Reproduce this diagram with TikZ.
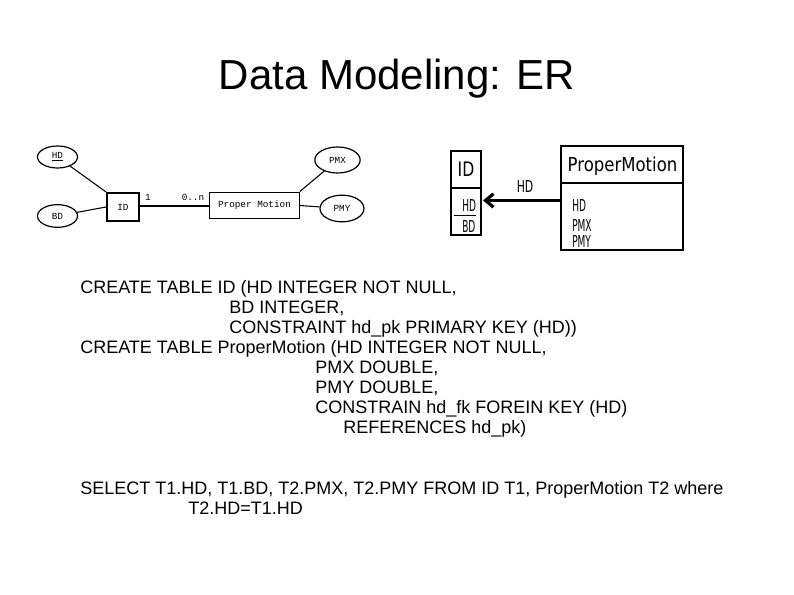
\documentclass[tikz,border=0pt]{standalone}
\usepackage{fontspec}
\setmainfont{Liberation Sans}
\newfontfamily\monof{Liberation Mono}
\newfontfamily\narrowf[FakeStretch=0.55]{DejaVu Sans}
\newfontfamily\labf[FakeStretch=0.66]{DejaVu Sans}
\newfontfamily\idf[FakeStretch=0.78]{DejaVu Sans}
\newfontfamily\hdrf[FakeStretch=0.86]{DejaVu Sans}
\usetikzlibrary{arrows.meta,shapes.geometric}
\tikzset{
  codeline/.style={anchor=base west, inner sep=0pt, font=\fontsize{13.5}{16}\selectfont},
  attr/.style={draw, ellipse, line width=0.9pt, inner sep=0pt, font=\monof\fontsize{7}{8}\selectfont},
  ent/.style={draw, line width=0.9pt, inner sep=0pt, font=\monof\fontsize{7}{8}\selectfont},
  erl/.style={line width=0.8pt},
  tbl/.style={draw, line width=2pt},
  fld/.style={anchor=base west, inner sep=0pt, font=\narrowf\fontsize{12.3}{14}\selectfont},
}
\begin{document}
\begin{tikzpicture}[x=0.75pt, y=-0.75pt]
\useasboundingbox (0,0) rectangle (794,595);
% title
\node[anchor=base, inner sep=0pt, font=\fontsize{31.5}{36}\selectfont] (title) at (397,90) {Data Modeling: ER};

% left ER diagram
\node[attr, minimum width=30pt, minimum height=16.5pt] (ehd) at (57.5,157) {\underline{HD}};
\node[attr, minimum width=30pt, minimum height=17pt] (ebd) at (57.5,216) {BD};
\node[ent, line width=1.6pt, minimum width=24pt, minimum height=21pt] (eid) at (123,207) {ID};
\node[ent, minimum width=67pt, minimum height=20pt] (epm) at (254.5,205.5) {Proper Motion};
\node[attr, minimum width=34pt, minimum height=19.5pt] (epmx) at (337.5,160) {PMX};
\node[attr, minimum width=33pt, minimum height=20pt] (epmy) at (342,208.5) {PMY};
\coordinate (idr) at (139,206);
\coordinate (pml) at (210,206);
\draw[erl] (ehd) -- (eid.north west);
\draw[erl] (ebd) -- (eid.west);
\draw[erl] (eid.east |- idr) -- (epm.west |- pml);
\draw[erl] (epm.north east) -- (epmx);
\draw[erl] (epm.east) -- (epmy);
\node[inner sep=0pt, font=\monof\fontsize{7}{8}\selectfont] (one) at (148,197) {1};
\node[inner sep=0pt, font=\monof\fontsize{7}{8}\selectfont] (zn) at (193,197) {0..n};

% right relational diagram
\draw[tbl, line width=2.1pt] (451,151) rectangle (481,235);
\draw[tbl, line width=2.1pt] (451,188) -- (481,188);
\node[anchor=base, inner sep=0pt, font=\idf\fontsize{15}{17}\selectfont] (tidt) at (466,177) {ID};
\node[fld] (thd) at (462,212) {HD};
\node[fld] (tbd) at (462,233) {BD};
\draw[line width=1pt] (454,215.5) -- (476,215.5);

\draw[tbl] (561,146) rectangle (683,250);
\draw[tbl] (561,183) -- (683,183);
\node[anchor=base, inner sep=0pt, font=\hdrf\fontsize{14.4}{16}\selectfont] (tpmt) at (622.5,172) {ProperMotion};
\node[fld] (tpmhd) at (572,212) {HD};
\node[fld] (tpmx) at (572,232) {PMX};
\node[fld] (tpmy) at (572,248) {PMY};
\coordinate (as) at (560,200.5);
\coordinate (ae) at (483,200.5);
\draw[line width=2.4pt, -{Straight Barb[length=6pt,width=10pt]}] (as) -- (ae);
\node[anchor=base, inner sep=0pt, font=\labf\fontsize{12.3}{14}\selectfont] (alab) at (525,193) {HD};

% SQL text
\node[codeline] (l1) at (80,294) {CREATE TABLE ID (HD INTEGER NOT NULL,};
\node[codeline] (l2) at (229,314) {BD INTEGER,};
\node[codeline] (l3) at (229,334) {CONSTRAINT hd\_pk PRIMARY KEY (HD))};
\node[codeline] (l4) at (80,354) {CREATE TABLE ProperMotion (HD INTEGER NOT NULL,};
\node[codeline] (l5) at (315,374) {PMX DOUBLE,};
\node[codeline] (l6) at (315,394) {PMY DOUBLE,};
\node[codeline] (l7) at (315,414) {CONSTRAIN hd\_fk FOREIN KEY (HD)};
\node[codeline] (l8) at (343,434) {REFERENCES hd\_pk)};
\node[codeline] (l9) at (80,495) {SELECT T1.HD, T1.BD, T2.PMX, T2.PMY FROM ID T1, ProperMotion T2 where};
\node[codeline] (l10) at (188,515) {T2.HD=T1.HD};
\end{tikzpicture}
\end{document}
